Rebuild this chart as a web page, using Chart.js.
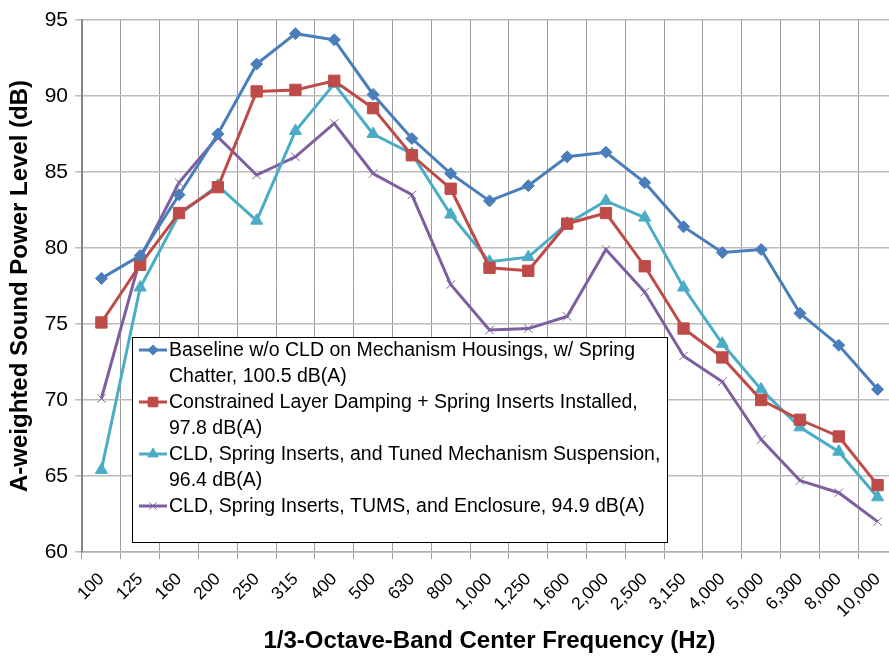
<!DOCTYPE html>
<html>
<head>
<meta charset="utf-8">
<script src="https://cdn.jsdelivr.net/npm/chart.js"></script>
<style>
  html, body { margin: 0; padding: 0; background: #fff; overflow: hidden; }
  #wrap { position: relative; width: 910px; height: 658px; }
</style>
</head>
<body>
<div id="wrap"><canvas id="spl"></canvas></div>
<script>
// 1/3-octave band centre frequencies (Hz)
const frequencies = ['100', '125', '160', '200', '250', '315', '400', '500', '630', '800',
  '1,000', '1,250', '1,600', '2,000', '2,500', '3,150', '4,000', '5,000', '6,300', '8,000', '10,000'];

// A-weighted sound power level (dB) per configuration
const baseline = [78.0, 79.5, 83.5, 87.5, 92.1, 94.1, 93.7, 90.1, 87.2, 84.9,
  83.1, 84.1, 86.0, 86.3, 84.3, 81.4, 79.7, 79.9, 75.7, 73.6, 70.7];
const cldInserts = [75.1, 78.9, 82.3, 84.0, 90.3, 90.4, 91.0, 89.2, 86.1, 83.9,
  78.7, 78.5, 81.6, 82.3, 78.8, 74.7, 72.8, 70.0, 68.7, 67.6, 64.4];
const cldTuned = [65.4, 77.4, 82.2, 84.1, 81.8, 87.7, 90.8, 87.5, 86.2, 82.2,
  79.1, 79.4, 81.6, 83.1, 82.0, 77.4, 73.7, 70.7, 68.2, 66.6, 63.6];
const cldEnclosure = [70.1, 79.3, 84.3, 87.3, 84.8, 86.0, 88.2, 84.9, 83.5, 77.6,
  74.6, 74.7, 75.5, 79.9, 77.1, 72.9, 71.2, 67.4, 64.7, 63.9, 62.0];

// legend text, wrapped as in the original
const legendLines = [
  ['Baseline w/o CLD on Mechanism Housings, w/ Spring', 'Chatter, 100.5 dB(A)'],
  ['Constrained Layer Damping + Spring Inserts Installed,', '97.8 dB(A)'],
  ['CLD, Spring Inserts, and Tuned Mechanism Suspension,', '96.4 dB(A)'],
  ['CLD, Spring Inserts, TUMS, and Enclosure, 94.9 dB(A)']
];

const FONT = "'Liberation Sans', Arial, sans-serif";
Chart.defaults.font.family = FONT;
Chart.defaults.color = '#000';

function series(label, data, color, style, radius, bw) {
  return {
    label: label.join(' '),
    data: data,
    borderColor: color,
    backgroundColor: color,
    borderWidth: 3,
    pointStyle: style,
    pointRadius: radius,
    pointBorderWidth: bw,
    pointBorderColor: color,
    pointBackgroundColor: color,
    tension: 0
  };
}

// marker for the hand-drawn legend
function marker(ctx, style, x, y, r, color, bw) {
  ctx.save();
  ctx.fillStyle = color;
  ctx.strokeStyle = color;
  ctx.lineWidth = bw;
  ctx.beginPath();
  if (style === 'rectRot') {
    ctx.moveTo(x, y - r); ctx.lineTo(x + r, y); ctx.lineTo(x, y + r); ctx.lineTo(x - r, y);
    ctx.closePath(); ctx.fill(); ctx.stroke();
  } else if (style === 'rect') {
    const s = r * Math.SQRT1_2;
    ctx.rect(x - s, y - s, 2 * s, 2 * s); ctx.fill(); ctx.stroke();
  } else if (style === 'triangle') {
    ctx.moveTo(x - r * 0.866, y + r * 0.5); ctx.lineTo(x + r * 0.866, y + r * 0.5); ctx.lineTo(x, y - r);
    ctx.closePath(); ctx.fill(); ctx.stroke();
  } else {
    const d = r * Math.SQRT1_2;
    ctx.moveTo(x - d, y - d); ctx.lineTo(x + d, y + d);
    ctx.moveTo(x + d, y - d); ctx.lineTo(x - d, y + d);
    ctx.stroke();
  }
  ctx.restore();
}

const boxLegend = {
  id: 'boxLegend',
  afterDraw(chart) {
    const ctx = chart.ctx;
    const a = chart.chartArea;
    const bx = a.left + 50, by = 337, bw = 535, bh = 205;
    ctx.save();
    ctx.fillStyle = '#fff';
    ctx.fillRect(bx, by, bw, bh);
    ctx.strokeStyle = '#000';
    ctx.lineWidth = 1;
    ctx.strokeRect(bx + 0.5, by + 0.5, bw, bh);
    ctx.font = '19.5px ' + FONT;
    ctx.textBaseline = 'middle';
    ctx.fillStyle = '#000';
    let y = by + 13;
    chart.data.datasets.forEach((ds, i) => {
      ctx.strokeStyle = ds.borderColor;
      ctx.lineWidth = 3;
      ctx.beginPath();
      ctx.moveTo(bx + 7, y);
      ctx.lineTo(bx + 35, y);
      ctx.stroke();
      marker(ctx, ds.pointStyle, bx + 21, y, ds.pointRadius * 0.85, ds.borderColor, ds.pointBorderWidth);
      ctx.fillStyle = '#000';
      legendLines[i].forEach(line => {
        ctx.fillText(line, bx + 37, y + 1);
        y += 26;
      });
    });
    ctx.restore();
  }
};

new Chart(document.getElementById('spl'), {
  type: 'line',
  data: {
    labels: frequencies,
    datasets: [
      series(legendLines[0], baseline, '#4A7EBB', 'rectRot', 6, 1),
      series(legendLines[1], cldInserts, '#BE4B48', 'rect', 8, 1),
      series(legendLines[2], cldTuned, '#4BACC6', 'triangle', 7, 1),
      series(legendLines[3], cldEnclosure, '#7D5FA0', 'crossRot', 6, 1)
    ]
  },
  options: {
    responsive: true,
    maintainAspectRatio: false,
    animation: false,
    layout: { padding: { top: 20, left: 0, right: 13, bottom: 0 } },
    plugins: {
      legend: { display: false },
      tooltip: { enabled: false }
    },
    scales: {
      x: {
        type: 'category',
        offset: true,
        grid: { offset: true, color: '#9c9c9c', lineWidth: 1, tickLength: 7 },
        border: { color: '#b0b0b0', width: 1.5 },
        ticks: {
          autoSkip: false,
          minRotation: 45,
          maxRotation: 45,
          padding: 10,
          font: { size: 17.5 },
          color: '#000'
        },
        title: {
          display: true,
          text: '1/3-Octave-Band Center Frequency (Hz)',
          font: { size: 24, weight: 'bold' },
          color: '#000',
          padding: { top: 0, bottom: 2 }
        },
        afterFit(scale) { scale.height = 106; }
      },
      y: {
        min: 60,
        max: 95,
        ticks: { stepSize: 5, padding: 7, font: { size: 21 }, color: '#000' },
        grid: { color: '#bcbcbc', lineWidth: 1.5, tickLength: 7 },
        border: { color: '#868686', width: 2 },
        title: {
          display: true,
          text: 'A-weighted Sound Power Level (dB)',
          font: { size: 24, weight: 'bold' },
          color: '#000',
          padding: { top: 6, bottom: 0 }
        },
        afterFit(scale) { scale.width = 82; }
      }
    }
  },
  plugins: [boxLegend]
});
</script>
</body>
</html>
